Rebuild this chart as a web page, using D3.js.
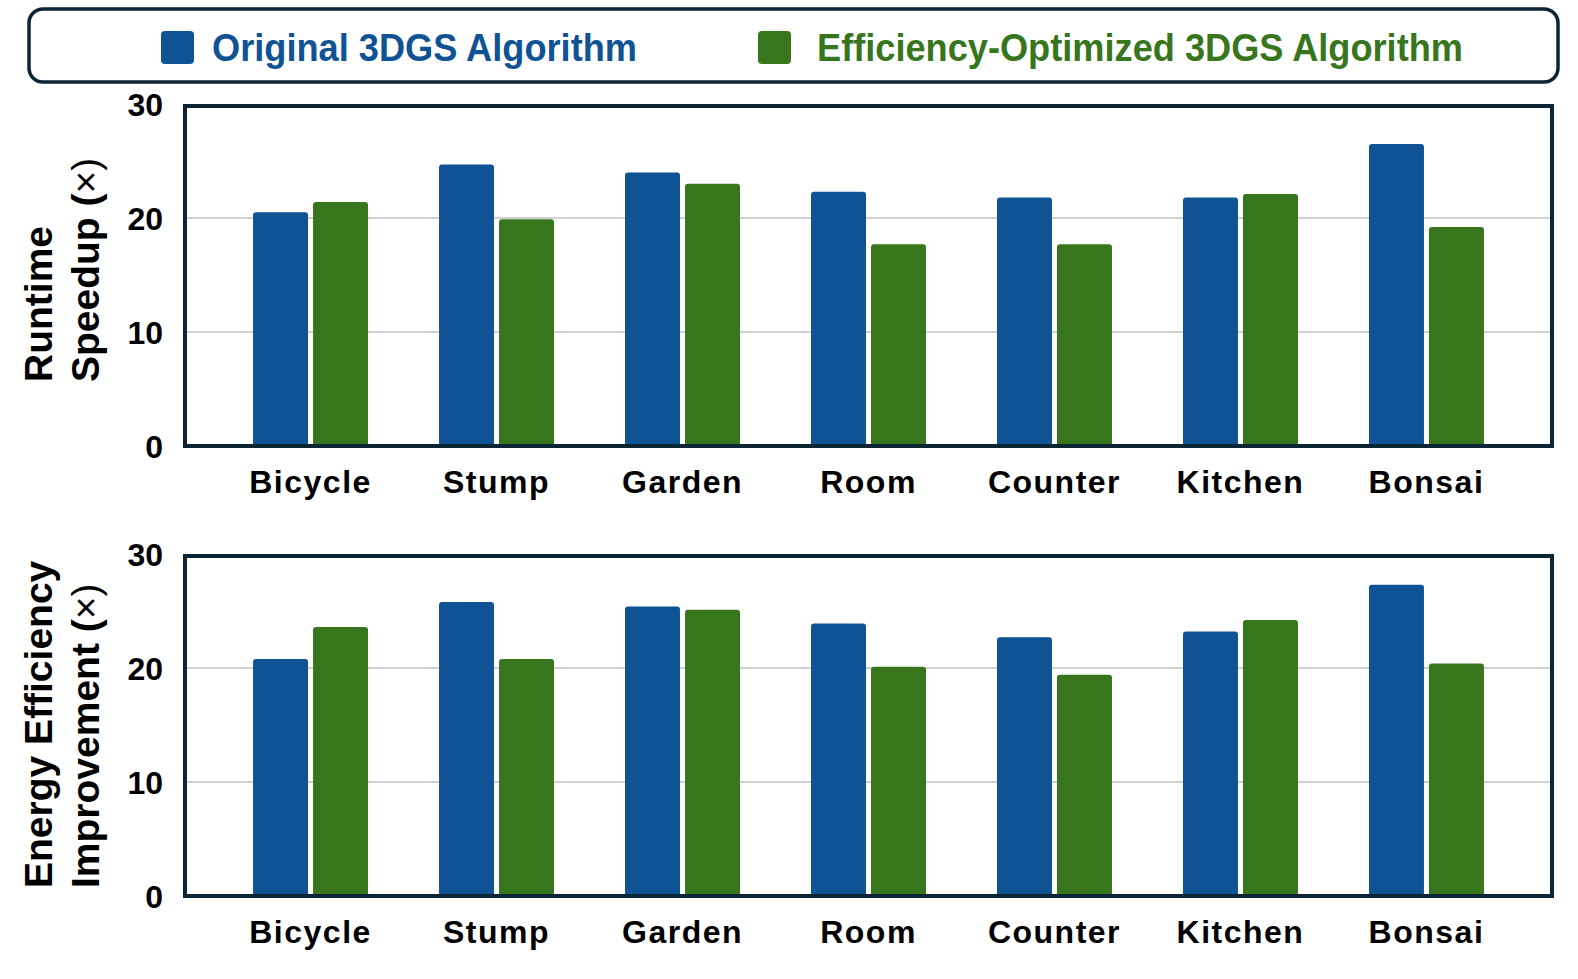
<!DOCTYPE html>
<html>
<head>
<meta charset="utf-8">
<script src="https://cdn.jsdelivr.net/npm/d3@7"></script>
<style>
  body { margin: 0; background: #fff; }
  text { font-family: "Liberation Sans", Arial, sans-serif; font-weight: bold; }
</style>
</head>
<body>
<svg id="chart" width="1578" height="979"></svg>
<script>
// scenes on the x axis
var scenes = ["Bicycle", "Stump", "Garden", "Room", "Counter", "Kitchen", "Bonsai"];

// runtime speedup (x)
var speedOriginal  = [20.5, 24.7, 24.0, 22.3, 21.8, 21.8, 26.5];
var speedOptimized = [21.4, 19.9, 23.0, 17.7, 17.7, 22.1, 19.2];

// energy efficiency improvement (x)
var energyOriginal  = [20.8, 25.8, 25.4, 23.9, 22.7, 23.2, 27.3];
var energyOptimized = [23.6, 20.8, 25.1, 20.1, 19.4, 24.2, 20.4];

var yTicks = [0, 10, 20, 30];
var seriesNames = ["Original 3DGS Algorithm", "Efficiency-Optimized 3DGS Algorithm"];
var colors = ["#0f5395", "#38761d"];
var frameColor = "#0b2535";

var svg = d3.select("#chart");

// ---- legend box ----
var legend = svg.append("g");
legend.append("rect")
    .attr("x", 29).attr("y", 9)
    .attr("width", 1529).attr("height", 73)
    .attr("rx", 14)
    .attr("fill", "none")
    .attr("stroke", frameColor)
    .attr("stroke-width", 3.5);

var legendItems = [
    {sx: 161, tx: 212, len: 425},
    {sx: 758, tx: 817, len: 646}
];
legendItems.forEach(function(it, i) {
    legend.append("rect")
        .attr("x", it.sx).attr("y", 31)
        .attr("width", 33).attr("height", 33)
        .attr("rx", 4)
        .attr("fill", colors[i]);
    legend.append("text")
        .attr("x", it.tx).attr("y", 61)
        .attr("font-size", 38)
        .attr("fill", colors[i])
        .attr("textLength", it.len)
        .attr("lengthAdjust", "spacingAndGlyphs")
        .text(seriesNames[i]);
});

// x positions shared by both panels
var frameLeft = 185, frameRight = 1552;
var x = d3.scalePoint()
    .domain(scenes)
    .range([frameLeft, frameRight])
    .padding(0.675);
var barW = 55, barGap = 5;

function drawPanel(cfg) {
    var y = d3.scaleLinear().domain([0, 30]).range([cfg.bottom, cfg.top]);
    var g = svg.append("g");

    // grid lines
    g.selectAll(".grid")
        .data(yTicks.filter(function(d) { return d > 0 && d < 30; }))
        .enter().append("line")
        .attr("x1", frameLeft).attr("x2", frameRight)
        .attr("y1", function(d) { return y(d); })
        .attr("y2", function(d) { return y(d); })
        .attr("stroke", "#d0d0d0")
        .attr("stroke-width", 2);

    // bars
    [cfg.a, cfg.b].forEach(function(vals, s) {
        g.selectAll(".bar" + s)
            .data(vals)
            .enter().append("path")
            .attr("d", function(v, i) {
                var cx = x(scenes[i]);
                var x0 = s === 0 ? cx - barGap / 2 - barW : cx + barGap / 2;
                var yt = y(v), yb = y(0), r = 3;
                return "M" + x0 + "," + yb +
                    "V" + (yt + r) +
                    "Q" + x0 + "," + yt + " " + (x0 + r) + "," + yt +
                    "H" + (x0 + barW - r) +
                    "Q" + (x0 + barW) + "," + yt + " " + (x0 + barW) + "," + (yt + r) +
                    "V" + yb + "Z";
            })
            .attr("fill", colors[s]);
    });

    // frame
    g.append("rect")
        .attr("x", frameLeft).attr("y", y(30) + 2)
        .attr("width", frameRight - frameLeft)
        .attr("height", y(0) - y(30) - 2)
        .attr("fill", "none")
        .attr("stroke", frameColor)
        .attr("stroke-width", 4);

    // y tick labels
    g.selectAll(".ytick")
        .data(yTicks)
        .enter().append("text")
        .attr("x", 163)
        .attr("y", function(d) { return y(d); })
        .attr("dy", "0.36em")
        .attr("text-anchor", "end")
        .attr("font-size", 32)
        .text(function(d) { return d; });

    // x labels
    g.selectAll(".xlab")
        .data(scenes)
        .enter().append("text")
        .attr("x", function(d) { return x(d); })
        .attr("y", cfg.bottom + 47)
        .attr("text-anchor", "middle")
        .attr("font-size", 32)
        .attr("letter-spacing", 1.5)
        .text(function(d) { return d; });

    // y title, two lines, reading bottom to top
    cfg.title.forEach(function(line, i) {
        var t = g.append("text")
            .attr("transform", "translate(" + (52 + i * 47) + "," + cfg.titleStart + ") rotate(-90)")
            .attr("text-anchor", "start")
            .attr("font-size", 39);
        t.append("tspan").text(line[0]);
        if (line[1]) {
            t.append("tspan").attr("font-weight", "normal").text(line[1]);
        }
    });
}

drawPanel({
    top: 104, bottom: 446,
    a: speedOriginal, b: speedOptimized,
    title: [["Runtime"], ["Speedup (", "\u00d7)"]],
    titleStart: 382
});

drawPanel({
    top: 554, bottom: 896,
    a: energyOriginal, b: energyOptimized,
    title: [["Energy Efficiency"], ["Improvement  (", "\u00d7)"]],
    titleStart: 888
});
</script>
</body>
</html>
